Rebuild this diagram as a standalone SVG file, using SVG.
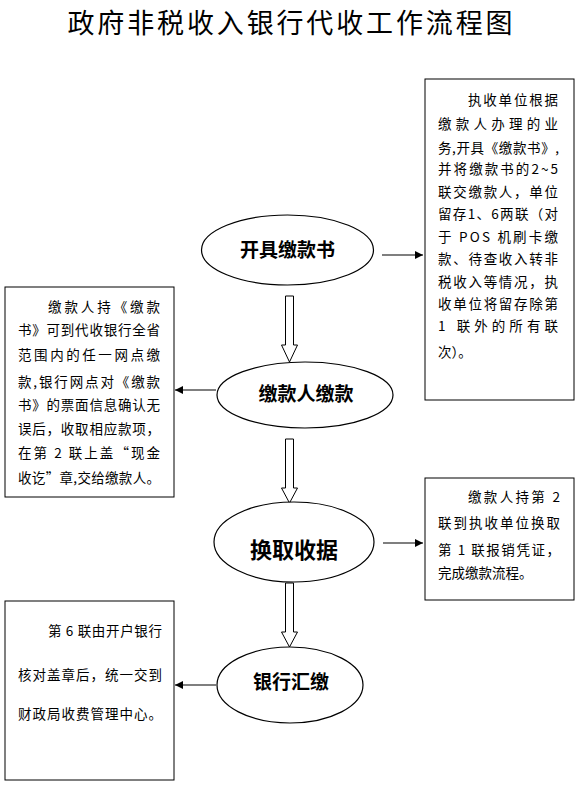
<svg xmlns="http://www.w3.org/2000/svg" width="579" height="798" viewBox="0 0 579 798">
<defs>
<style>
.ell{fill:#fff;stroke:#000;stroke-width:1.2}
.box{fill:#fff;stroke:#000;stroke-width:1}
.lbl{font-family:"Noto Sans CJK SC","Noto Sans",sans-serif;font-weight:bold;text-anchor:middle;fill:#000}
.t{font-family:"Noto Sans CJK SC","Liberation Sans",sans-serif;font-size:13.5px;fill:#000}
.ln{stroke:#000;stroke-width:1.2;fill:none}
.hol{fill:#fff;stroke:#000;stroke-width:1}
</style>
<marker id="ah" viewBox="0 0 10 10" refX="10" refY="5" markerWidth="8" markerHeight="8" markerUnits="userSpaceOnUse" orient="auto">
<path d="M0,0 L10,5 L0,10 z" fill="#000"/>
</marker>
</defs>
<rect width="579" height="798" fill="#fff"/>
<text x="290" y="33" font-family="Noto Sans CJK SC,sans-serif" font-size="27" text-anchor="middle" textLength="445" lengthAdjust="spacing">政府非税收入银行代收工作流程图</text>

<g id="connectors">
<path class="hol" d="M285.5,296 H293.5 V345 H297.5 L289.5,362 L281.5,345 H285.5 Z"/>
<path class="hol" d="M285.5,439 H293.5 V488 H297.5 L289.5,503 L281.5,488 H285.5 Z"/>
<path class="hol" d="M285.5,583 H293.5 V632 H297.5 L289.5,647 L281.5,632 H285.5 Z"/>
<line class="ln" x1="382" y1="255" x2="423" y2="255" marker-end="url(#ah)"/>
<line class="ln" x1="216" y1="390" x2="175" y2="390" marker-end="url(#ah)"/>
<line class="ln" x1="383" y1="543" x2="423" y2="543" marker-end="url(#ah)"/>
<line class="ln" x1="216" y1="685" x2="175" y2="685" marker-end="url(#ah)"/>
</g>

<g id="n1">
<ellipse class="ell" cx="287.5" cy="250" rx="86" ry="35"/>
<text class="lbl" x="287.5" y="257" font-size="19">开具缴款书</text>
</g>
<g id="n2">
<ellipse class="ell" cx="305" cy="395" rx="88" ry="33"/>
<text class="lbl" x="306" y="401" font-size="19">缴款人缴款</text>
</g>
<g id="n3">
<ellipse class="ell" cx="294" cy="542" rx="80" ry="40"/>
<text class="lbl" x="294" y="558" font-size="22">换取收据</text>
</g>
<g id="n4">
<ellipse class="ell" cx="290" cy="685" rx="73" ry="38"/>
<text class="lbl" x="291" y="689" font-size="19">银行汇缴</text>
</g>

<g id="b1">
<rect class="box" x="425" y="79" width="149" height="321"/>
<text class="t" x="468" y="105" textLength="90" lengthAdjust="spacing">执收单位根据</text>
<text class="t" x="438" y="129" textLength="120" lengthAdjust="spacing">缴款人办理的业</text>
<text class="t" x="438" y="153" textLength="121" lengthAdjust="spacing">务,开具《缴款书》,</text>
<text class="t" x="438" y="174" textLength="120" lengthAdjust="spacing">并将缴款书的2~5</text>
<text class="t" x="438" y="197" textLength="120" lengthAdjust="spacing">联交缴款人，单位</text>
<text class="t" x="438" y="219" textLength="120" lengthAdjust="spacing">留存1、6两联（对</text>
<text class="t" x="438" y="242" textLength="120" lengthAdjust="spacing">于 POS 机刷卡缴</text>
<text class="t" x="438" y="264" textLength="120" lengthAdjust="spacing">款、待查收入转非</text>
<text class="t" x="438" y="287" textLength="120" lengthAdjust="spacing">税收入等情况，执</text>
<text class="t" x="438" y="309" textLength="120" lengthAdjust="spacing">收单位将留存除第</text>
<text class="t" x="438" y="331" textLength="120" lengthAdjust="spacing">1 联外的所有联</text>
<text class="t" x="438" y="357">次）。</text>
</g>

<g id="b2">
<rect class="box" x="5" y="287" width="169" height="210"/>
<text class="t" x="48" y="312" textLength="112" lengthAdjust="spacing">缴款人持《缴款</text>
<text class="t" x="18" y="335" textLength="142" lengthAdjust="spacing">书》可到代收银行全省</text>
<text class="t" x="18" y="360" textLength="142" lengthAdjust="spacing">范围内的任一网点缴</text>
<text class="t" x="18" y="387" textLength="142" lengthAdjust="spacing">款,银行网点对《缴款</text>
<text class="t" x="18" y="410" textLength="142" lengthAdjust="spacing">书》的票面信息确认无</text>
<text class="t" x="18" y="434" textLength="142" lengthAdjust="spacing">误后，收取相应款项，</text>
<text class="t" x="18" y="458" textLength="142" lengthAdjust="spacing">在第 2 联上盖“现金</text>
<text class="t" x="18" y="483" textLength="142" lengthAdjust="spacing">收讫”章,交给缴款人。</text>
</g>

<g id="b3">
<rect class="box" x="425" y="478" width="149" height="122"/>
<text class="t" x="468" y="502" textLength="92" lengthAdjust="spacing">缴款人持第 2</text>
<text class="t" x="438" y="528" textLength="122" lengthAdjust="spacing">联到执收单位换取</text>
<text class="t" x="438" y="555" textLength="122" lengthAdjust="spacing">第 1 联报销凭证，</text>
<text class="t" x="438" y="578">完成缴款流程。</text>
</g>

<g id="b4">
<rect class="box" x="5" y="601" width="169" height="179"/>
<text class="t" x="48" y="636" textLength="114" lengthAdjust="spacing">第 6 联由开户银行</text>
<text class="t" x="18" y="680" textLength="144" lengthAdjust="spacing">核对盖章后，统一交到</text>
<text class="t" x="18" y="719" textLength="144" lengthAdjust="spacing">财政局收费管理中心。</text>
</g>
</svg>
